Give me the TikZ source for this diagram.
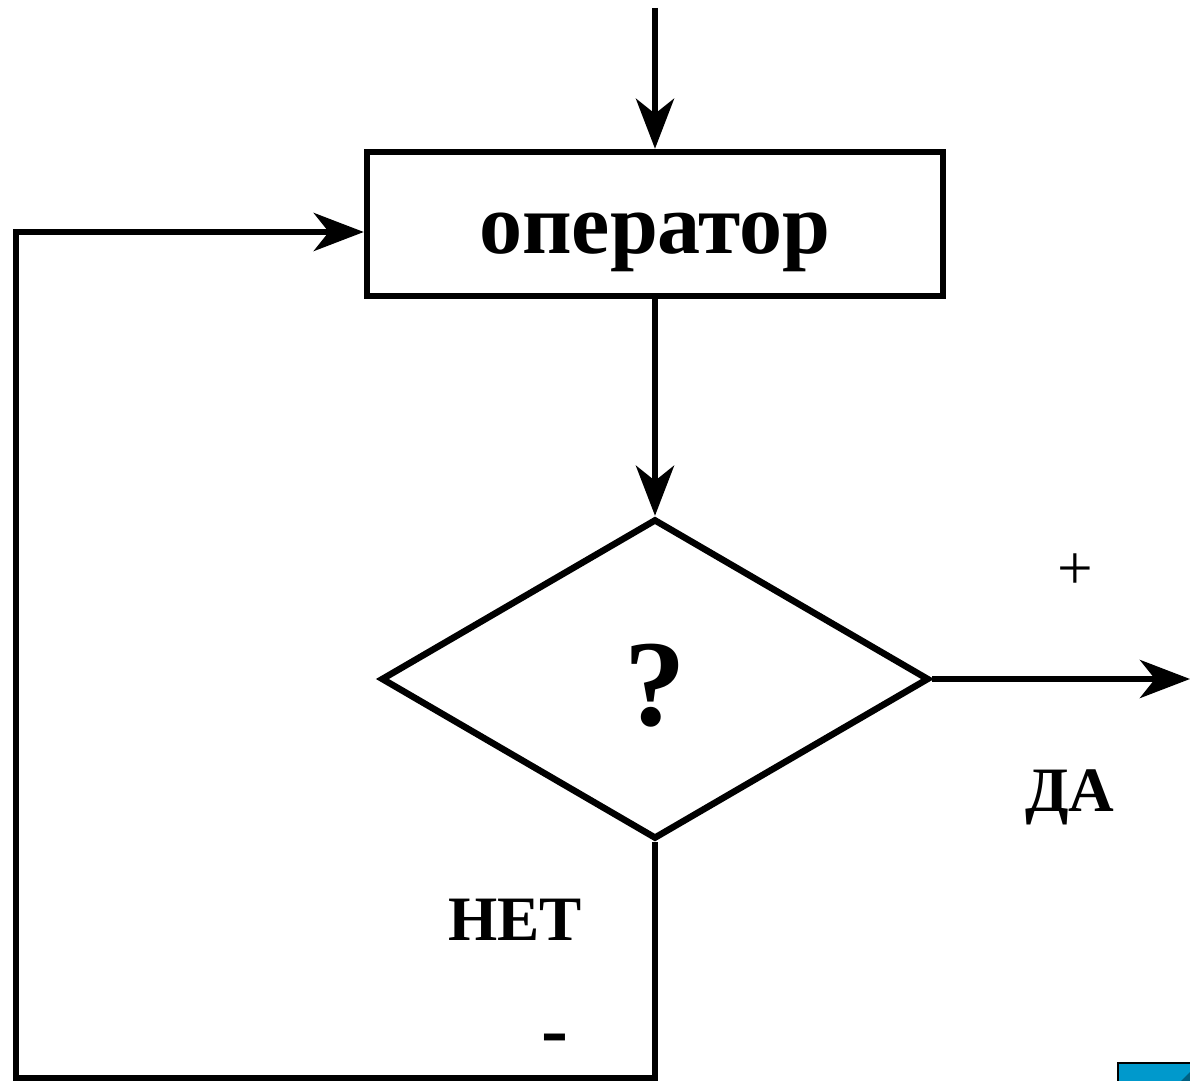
\documentclass[tikz,border=0pt]{standalone}
\usepackage{fontspec}
\setmainfont{Liberation Serif}
\usetikzlibrary{arrows.meta,shapes.geometric}
\definecolor{navblue}{RGB}{0,153,204}
\definecolor{navdark}{RGB}{0,96,130}
\begin{document}
\begin{tikzpicture}[x=0.02cm,y=-0.02cm,
  line width=3.7pt,
  arr/.style={-{Stealth[length=1cm,width=0.76cm,inset=0.3cm]}},
  opbox/.style={draw,rectangle,minimum width=11.52cm,minimum height=2.88cm,inner sep=0pt},
  decision/.style={draw,diamond,minimum width=10.96cm,minimum height=6.4cm,inner sep=0pt},
  lbl/.style={font=\bfseries\fontsize{36}{40}\selectfont,inner sep=0pt}]
\useasboundingbox (0,0) rectangle (1190,1081);
\node[opbox] (box) at (655,224) {};
\node[font=\bfseries\fontsize{49}{56}\selectfont,inner sep=0pt] (optext) at (655,242) {оператор};
\node[decision] (dia) at (655,679) {};
\node[font=\bfseries\fontsize{70}{80}\selectfont,inner sep=0pt] (q) at (655,686) {?};
\coordinate (start) at (655,8);
\coordinate (out) at (1190,679);
\coordinate (bl) at (16,1078);
\draw[arr] (start) -- (box.north);
\draw[arr] (box.south) -- (dia.north);
\draw[arr] (dia.east) -- (out);
\draw[arr] (dia.south) |- (bl) |- ([yshift=-0.16cm]box.west);
\node[font=\fontsize{36}{40}\selectfont,inner sep=0pt] (plus) at (1075,572) {+};
\node[lbl] (da) at (1070,797) {ДА};
\node[lbl] (net) at (515,920) {НЕТ};
\node[font=\bfseries\fontsize{46}{50}\selectfont,inner sep=0pt] (minus) at (555,1045) {-};
\draw[line width=1.2pt,fill=navblue] (1118,1063) rectangle (1200,1090);
\fill[navdark] (1172,1090) -- (1200,1062) -- (1200,1090) -- cycle;
\end{tikzpicture}
\end{document}
